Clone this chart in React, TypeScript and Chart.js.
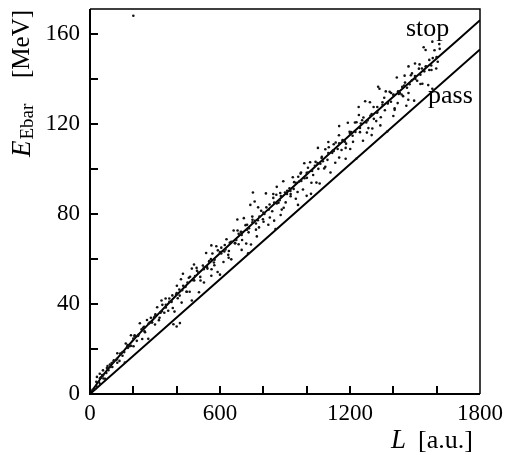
import React, { useEffect, useRef } from "react";
import { Chart, registerables } from "chart.js";

Chart.register(...registerables);

// Axis ranges and tick settings
const xRange = [0, 1800];
const yRange = [0, 171];
const xLabelEvery = 600;
const yLabelEvery = 40;
const xTickStep = 200;
const yTickStep = 20;

// Reference curves
const stopL = [0, 50, 100, 150, 200, 300, 400, 500, 600, 800, 1000, 1200, 1400, 1600, 1800];
const stopE = [0, 7, 13, 18.5, 24, 34, 44, 53.5, 62.5, 80, 97.5, 115, 132, 149, 166];
const passL = [0, 600, 1200, 1800];
const passE = [0, 51, 102, 153];

// Measured events [L, E]
const bandEvents: [number, number][] = [
  [12,1.9],[23,2.2],[29,5.4],[41,5.3],[46,4.5],[56,8.4],[60,8.2],[70,6.8],[81,12.4],[85,10.6],
  [92,13.1],[103,12.0],[109,14.4],[121,15.1],[126,18.1],[136,14.7],[140,18.0],[150,17.0],[161,14.0],[165,22.4],
  [172,21.1],[183,21.2],[189,26.1],[201,21.2],[206,26.1],[216,23.6],[220,25.8],[230,31.4],[241,24.4],[245,29.4],
  [252,27.9],[263,32.9],[269,24.5],[281,33.9],[286,31.9],[296,34.0],[300,30.9],[310,38.5],[321,33.9],[325,36.1],
  [332,36.8],[343,36.1],[349,42.4],[361,37.0],[366,41.0],[376,40.9],[380,43.8],[390,36.6],[401,48.1],[405,42.5],
  [412,46.4],[423,40.6],[429,53.4],[441,47.6],[446,45.4],[456,51.6],[460,45.4],[470,55.7],[481,50.4],[485,52.4],
  [492,56.0],[503,45.2],[509,52.0],[521,57.1],[526,49.5],[536,62.6],[540,56.4],[550,59.0],[561,55.4],[565,62.4],
  [572,58.4],[583,65.6],[589,54.2],[601,62.6],[606,65.0],[616,58.6],[620,63.3],[630,68.7],[641,63.5],[645,67.2],
  [652,59.8],[663,72.6],[669,67.0],[681,72.6],[686,66.5],[696,72.0],[700,70.6],[710,78.1],[721,66.8],[725,75.2],
  [732,71.8],[743,66.4],[749,78.8],[761,76.9],[766,75.7],[776,82.9],[780,74.0],[790,81.4],[801,76.5],[805,80.0],
  [812,89.1],[823,75.2],[829,84.2],[841,81.2],[846,88.8],[856,73.3],[860,88.5],[870,85.0],[881,87.9],[885,81.9],
  [892,94.5],[903,85.1],[909,88.8],[921,91.4],[926,87.8],[936,96.3],[940,91.1],[950,86.7],[961,96.5],[965,94.4],
  [972,97.9],[983,90.8],[989,102.5],[1001,96.0],[1006,98.4],[1016,102.9],[1020,88.9],[1030,97.3],[1041,103.1],[1045,93.9],
  [1052,109.3],[1063,102.3],[1069,104.8],[1081,100.2],[1086,108.7],[1096,104.0],[1100,111.9],[1110,98.4],[1121,108.1],[1125,110.9],
  [1132,102.7],[1143,108.8],[1149,114.9],[1161,108.4],[1166,112.8],[1176,112.1],[1180,109.3],[1190,120.5],[1201,108.8],[1205,116.3],
  [1212,114.7],[1223,120.6],[1229,104.5],[1241,123.9],[1246,116.3],[1256,121.6],[1260,112.5],[1270,130.0],[1281,121.5],[1285,118.1],
  [1292,129.6],[1303,117.9],[1309,127.5],[1321,121.2],[1326,125.3],[1336,135.6],[1340,119.3],[1350,129.6],[1361,126.0],[1365,134.4],
  [1372,116.6],[1383,134.2],[1389,129.8],[1401,133.0],[1406,126.2],[1416,140.6],[1420,129.2],[1430,133.7],[1441,136.4],[1445,132.3],
  [1452,141.4],[1463,136.0],[1469,130.7],[1481,141.6],[1486,139.3],[1496,130.3],[1500,146.8],[1510,139.1],[1521,146.4],[1525,137.7],
  [1532,144.6],[1543,143.3],[1549,152.8],[1561,137.2],[1566,148.4],[1576,143.9],[1580,135.6],[1590,152.7],[1601,149.5],[1605,147.6],
  [1612,155.4],
];

const coreEvents: [number, number][] = [
  [50,7.4],[75,9.3],[100,13.8],[125,15.6],[150,18.6],[175,20.5],[200,24.6],[225,26.4],[250,29.9],[275,31.7],
  [300,34.5],[325,36.2],[350,39.6],[375,41.1],[400,44.8],[425,46.1],[450,49.5],[475,50.6],[500,53.9],[525,55.4],
  [550,58.7],[575,59.6],[600,63.0],[625,64.2],[650,67.5],[675,68.4],[700,71.9],[725,73.0],[750,76.3],[775,77.2],
  [800,80.6],[825,81.9],[850,85.0],[875,86.1],[900,89.5],[925,90.2],[950,93.8],[975,94.6],[1000,98.2],[1025,99.1],
  [1050,102.6],[1075,103.4],[1100,107.0],[1125,107.9],[1150,111.3],[1175,112.2],[1200,115.7],[1225,116.4],[1250,120.1],[1275,120.6],
  [1300,124.3],[1325,124.9],[1350,128.5],[1375,129.2],[1400,132.8],[1425,133.3],[1450,137.0],[1475,137.6],[1500,141.2],[1525,141.8],
  [1550,145.5],[1575,145.9],[1600,149.7],
];

const denseEvents: [number, number][] = [
  [30,3.4],[46,7.0],[62,6.9],[78,11.5],[94,12.0],[110,15.0],[126,13.9],[142,17.8],
  [158,18.6],[174,21.7],[190,21.4],[206,25.7],[222,25.9],[238,28.7],[254,27.4],[270,31.2],
  [286,31.8],[302,35.4],[318,32.8],[334,39.6],[350,38.4],[366,42.4],[382,38.2],[398,44.2],
  [414,43.7],[430,48.1],[446,45.4],[462,52.1],[478,50.8],[494,54.7],[510,50.4],[526,56.2],
  [542,55.7],[558,59.9],[574,57.2],[590,63.8],[606,62.4],[622,66.2],[638,61.8],[654,67.6],
  [670,67.0],[686,71.2],[702,68.4],[718,75.0],[734,73.6],[750,77.4],[766,73.0],[782,78.8],
  [798,77.6],[814,82.9],[830,78.4],[846,87.1],[862,84.6],[878,89.3],[894,82.7],[910,90.3],
  [926,88.8],[942,94.1],[958,89.7],[974,98.4],[990,95.8],[1006,100.5],[1022,93.8],[1038,101.4],
  [1054,100.0],[1070,105.4],[1086,100.9],[1102,109.6],[1118,107.1],[1134,111.7],[1150,105.0],[1166,112.6],
  [1182,111.2],[1198,116.5],[1214,112.0],[1230,120.7],[1246,118.2],[1262,122.8],[1278,116.1],[1294,123.6],
  [1310,122.2],[1326,127.5],[1342,122.9],[1358,131.6],[1374,129.0],[1390,133.7],[1406,126.9],[1422,134.5],
  [1438,133.0],[1454,138.3],[1470,133.7],[1486,142.4],[1502,139.9],[1518,144.5],[1534,137.8],[1550,145.4],
  [1566,143.9],[1582,149.2],[1598,144.6],[1614,153.3],
];

const outlierEvents: [number, number][] = [
  [32,7.6],[45,9.0],[60,10.5],[385,31.0],[400,30.0],[415,31.5],[470,41.5],[560,52.5],[600,53.0],[640,60.5],
  [700,64.0],[730,62.5],[770,70.0],[850,77.0],[880,79.5],[960,84.0],[1000,88.0],[1060,93.5],[1180,104.5],[1300,115.0],
  [1400,123.5],[1460,128.0],[1240,127.5],[1150,119.0],[760,85.5],[740,84.0],[680,77.5],[560,66.0],[480,57.5],[420,51.0],
  [330,41.5],[1540,154.0],[1580,156.5],[1470,145.5],[1330,136.5],[752,89.5],[862,92.0],[200,168],
];

// Text
const stopText = "stop";
const passText = "pass";
const xTitleVar = "L";
const xTitleUnit = "[a.u.]";
const yTitleVar = "E";
const yTitleSub = "Ebar";
const yTitleUnit = "[MeV]";

const SERIF = "'Liberation Serif', 'Times New Roman', serif";

export default function App() {
  const ref = useRef<HTMLCanvasElement>(null);

  useEffect(() => {
    if (!ref.current) return;
    const pairs = (arr: [number, number][]) => arr.map(([x, y]) => ({ x, y }));
    const zip = (xs: number[], ys: number[]) => xs.map((x, i) => ({ x, y: ys[i] }));

    const decorations = {
      id: "decorations",
      afterDatasetsDraw(chart: any) {
        const { ctx, chartArea: a, scales } = chart;
        const xs = scales.x;
        const ys = scales.y;
        ctx.save();
        ctx.strokeStyle = "#000";
        ctx.lineCap = "butt";
        // frame
        ctx.lineWidth = 1.5;
        ctx.beginPath();
        ctx.moveTo(a.left, a.top);
        ctx.lineTo(a.right, a.top);
        ctx.lineTo(a.right, a.bottom);
        ctx.stroke();
        ctx.lineWidth = 2;
        ctx.beginPath();
        ctx.moveTo(a.left, a.top);
        ctx.lineTo(a.left, a.bottom);
        ctx.lineTo(a.right, a.bottom);
        ctx.stroke();
        // inward ticks
        ctx.lineWidth = 2;
        xs.ticks.forEach((t: any) => {
          const px = Math.round(xs.getPixelForValue(t.value));
          if (px <= a.left + 1 || px >= a.right - 1) return;
          ctx.beginPath();
          ctx.moveTo(px, a.bottom);
          ctx.lineTo(px, a.bottom - 8);
          ctx.stroke();
        });
        ys.ticks.forEach((t: any) => {
          const py = Math.round(ys.getPixelForValue(t.value));
          if (py >= a.bottom - 1 || py <= a.top + 1) return;
          ctx.beginPath();
          ctx.moveTo(a.left, py);
          ctx.lineTo(a.left + 8, py);
          ctx.stroke();
        });

        ctx.fillStyle = "#000";
        ctx.textBaseline = "alphabetic";
        ctx.textAlign = "left";
        // curve labels
        ctx.font = `26px ${SERIF}`;
        ctx.fillText(stopText, 406, 36);
        ctx.fillText(passText, 428, 103);

        // x title
        ctx.font = `italic 27px ${SERIF}`;
        ctx.fillText(xTitleVar, 391, 448);
        ctx.font = `26px ${SERIF}`;
        ctx.fillText(xTitleUnit, 418, 448);

        // y title (rotated)
        ctx.translate(30, 157);
        ctx.rotate(-Math.PI / 2);
        ctx.font = `italic 27px ${SERIF}`;
        ctx.fillText(yTitleVar, 0, 0);
        const wE = ctx.measureText(yTitleVar).width;
        ctx.font = `19px ${SERIF}`;
        ctx.fillText(yTitleSub, wE + 1, 3);
        ctx.font = `25px ${SERIF}`;
        ctx.fillText(yTitleUnit, 79, -1);
        ctx.restore();
      },
    };

    const noPadX = (s: any) => {
      s.height = 61;
      s.paddingLeft = 0;
      s.paddingRight = 0;
    };
    const noPadY = (s: any) => {
      s.width = 90;
      s.paddingTop = 0;
      s.paddingBottom = 0;
    };

    const chart = new Chart(ref.current, {
      type: "scatter",
      data: {
        datasets: [
          {
            label: "events",
            data: pairs([...bandEvents, ...coreEvents, ...denseEvents, ...outlierEvents]),
            pointRadius: 1.3,
            pointBorderWidth: 0,
            backgroundColor: "#111",
            borderColor: "#111",
          },
          {
            label: "stop",
            data: zip(stopL, stopE),
            showLine: true,
            borderColor: "#000",
            borderWidth: 2,
            pointRadius: 0,
            cubicInterpolationMode: "monotone",
          },
          {
            label: "pass",
            data: zip(passL, passE),
            showLine: true,
            borderColor: "#000",
            borderWidth: 2,
            pointRadius: 0,
          },
        ],
      },
      options: {
        animation: false,
        responsive: false,
        devicePixelRatio: 1,
        layout: { padding: { left: 0, top: 9, right: 25, bottom: 0 } },
        plugins: { legend: { display: false }, tooltip: { enabled: false } },
        scales: {
          x: {
            type: "linear",
            min: xRange[0],
            max: xRange[1],
            grid: { display: false, drawTicks: false },
            border: { display: false },
            ticks: {
              stepSize: xTickStep,
              autoSkip: false,
              maxRotation: 0,
              padding: 6,
              color: "#000",
              font: { family: SERIF, size: 23 },
              callback: (v: any) => (Number(v) % xLabelEvery === 0 ? String(v) : ""),
            },
            afterFit: noPadX,
          },
          y: {
            type: "linear",
            min: yRange[0],
            max: yRange[1],
            grid: { display: false, drawTicks: false },
            border: { display: false },
            ticks: {
              stepSize: yTickStep,
              includeBounds: false,
              autoSkip: false,
              padding: 10,
              color: "#000",
              font: { family: SERIF, size: 23 },
              callback: (v: any) => (Number(v) % yLabelEvery === 0 ? String(v) : ""),
            },
            afterFit: noPadY,
          },
        },
      },
      plugins: [decorations],
    } as any);

    return () => chart.destroy();
  }, []);

  return (
    <div style={{ position: "fixed", left: 0, top: 0, width: 505, height: 455, background: "#fff" }}>
      <canvas ref={ref} width={505} height={455} style={{ display: "block" }} />
    </div>
  );
}
